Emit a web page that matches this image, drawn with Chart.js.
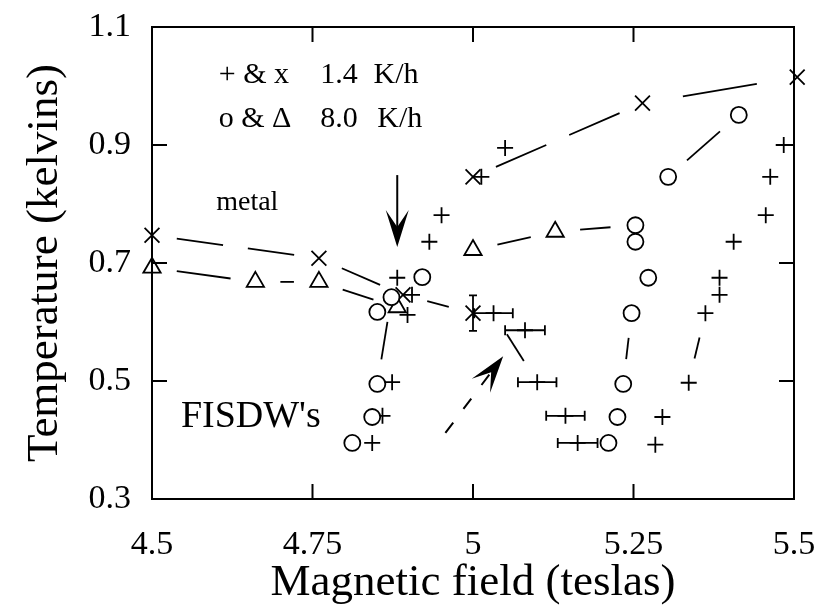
<!DOCTYPE html>
<html><head><meta charset="utf-8">
<script src="https://cdn.jsdelivr.net/npm/chart.js@4/dist/chart.umd.min.js"></script>
<style>html,body{margin:0;padding:0;background:#fff;}canvas{display:block;}</style>
</head><body>
<canvas id="c" width="826" height="614"></canvas>
<script>
// ---- axis ticks ----
const xTickValues = [4.5, 4.75, 5, 5.25, 5.5];
const xTickLabels = ['4.5', '4.75', '5', '5.25', '5.5'];
const yTickValues = [0.3, 0.5, 0.7, 0.9, 1.1];
const yTickLabels = ['0.3', '0.5', '0.7', '0.9', '1.1'];

// ---- "+" markers, 1.4 K/h ----
const plusX = [5.013, 4.951, 4.932, 4.882, 4.905, 4.898, 5.032, 5.081, 5.100, 5.144, 5.163, 4.874, 4.859, 4.843, 5.050, 5.456, 5.406, 5.384, 5.384, 5.362, 5.336, 5.295, 5.284, 5.484, 5.463];
const plusY = [0.846, 0.781, 0.736, 0.675, 0.646, 0.612, 0.615, 0.586, 0.498, 0.441, 0.395, 0.498, 0.441, 0.395, 0.895, 0.781, 0.736, 0.675, 0.646, 0.615, 0.497, 0.439, 0.392, 0.900, 0.846];
const plusXErr = [0, 0, 0, 0, 0, 0, 0.030, 0.031, 0.030, 0.030, 0.031, 0, 0, 0, 0, 0, 0, 0, 0, 0, 0, 0, 0, 0, 0];

// ---- "x" markers, 1.4 K/h ----
const crossX = [4.5, 4.76, 4.891, 5.0, 5.0, 5.264, 5.505];
const crossY = [0.747, 0.708, 0.646, 0.615, 0.846, 0.971, 1.015];
const crossYErr = [0, 0, 0, 0.030, 0, 0, 0];

// ---- "o" markers, 8.0 K/h ----
const circleX = [4.921, 4.873, 4.851, 4.851, 4.843, 4.812, 5.253, 5.253, 5.273, 5.247, 5.234, 5.225, 5.211, 5.304, 5.414];
const circleY = [0.676, 0.642, 0.617, 0.495, 0.439, 0.395, 0.764, 0.736, 0.675, 0.615, 0.495, 0.439, 0.395, 0.846, 0.951];

// ---- triangle markers, 8.0 K/h ----
const triX = [4.5, 4.661, 4.76, 4.882, 5.0, 5.128];
const triY = [0.692, 0.668, 0.668, 0.625, 0.722, 0.753];

// ---- dashed connecting lines ----
const slowLowX = [4.5, 4.76, 4.891, 5.0];
const slowLowY = [0.747, 0.708, 0.646, 0.615];
const slowHighX = [5.0, 5.264, 5.505];
const slowHighY = [0.846, 0.971, 1.015];
const slowMidX = [5.032, 5.100];
const slowMidY = [0.615, 0.498];
const slowRightX = [5.336, 5.362];
const slowRightY = [0.497, 0.615];
const fastMainX = [4.5, 4.661, 4.76, 4.882, 4.921, 5.0, 5.128, 5.253];
const fastMainY = [0.692, 0.668, 0.668, 0.625, 0.676, 0.722, 0.753, 0.764];
const fastLeftX = [4.873, 4.851];
const fastLeftY = [0.642, 0.495];
const fastRightX = [5.234, 5.247];
const fastRightY = [0.495, 0.615];
const fastTopX = [5.304, 5.414];
const fastTopY = [0.846, 0.951];

// ---- annotations (data coordinates) ----
const notes = [
  {text: '+ & x', x: 4.604, y: 1.005, size: 30},
  {text: '1.4', x: 4.762, y: 1.005, size: 30},
  {text: 'K/h', x: 4.845, y: 1.005, size: 30},
  {text: 'o & \u0394', x: 4.604, y: 0.931, size: 30},
  {text: '8.0', x: 4.762, y: 0.931, size: 30},
  {text: 'K/h', x: 4.851, y: 0.931, size: 30},
  {text: 'metal', x: 4.600, y: 0.790, size: 28},
  {text: "FISDW's", x: 4.545, y: 0.422, size: 38}
];
const arrows = [
  {x0: 4.882, y0: 0.849, x1: 4.882, y1: 0.727, dashed: false},
  {x0: 4.957, y0: 0.412, x1: 5.047, y1: 0.542, dashed: true}
];

const FONT = "'Liberation Serif', 'Times New Roman', serif";
const pts = (xs, ys) => xs.map((v, i) => ({x: v, y: ys[i]}));

function gapDash(ctx) {
  const a = ctx.p0, b = ctx.p1;
  const L = Math.hypot(b.x - a.x, b.y - a.y);
  const g = 25;
  const M = L - 2 * g;
  if (M < 10) return [0, L + 50];
  if (M <= 80) return [0, g, M, L];
  if (M <= 115) { const s = (L - 75) / 2; return [0, s, 75, L]; }
  const d = (M - 25) / 2;
  return [0, g, d, 25, d, L];
}

function lineDs(xs, ys) {
  return {
    type: 'line', data: pts(xs, ys), showLine: true, borderColor: '#000', borderWidth: 1.8,
    pointRadius: 0, tension: 0, fill: false, clip: false, order: 10,
    segment: {borderDash: gapDash}
  };
}
function markDs(xs, ys, style, r, order, bg) {
  return {
    type: 'scatter', data: pts(xs, ys), showLine: false, pointStyle: style, pointRadius: r,
    pointBorderWidth: 1.8, borderColor: '#000', pointBorderColor: '#000',
    pointBackgroundColor: bg || 'rgba(0,0,0,0)', clip: false, order: order
  };
}

const decor = {
  id: 'decor',
  afterDatasetsDraw(chart) {
    const {ctx, chartArea: a, scales: {x, y}} = chart;
    ctx.save();
    ctx.strokeStyle = '#000'; ctx.fillStyle = '#000';
    ctx.lineWidth = 2;
    ctx.strokeRect(a.left, a.top, a.right - a.left, a.bottom - a.top);
    const T = 15;
    ctx.beginPath();
    xTickValues.forEach(v => { const p = x.getPixelForValue(v);
      ctx.moveTo(p, a.bottom); ctx.lineTo(p, a.bottom - T);
      ctx.moveTo(p, a.top); ctx.lineTo(p, a.top + T); });
    yTickValues.forEach(v => { const p = y.getPixelForValue(v);
      ctx.moveTo(a.left, p); ctx.lineTo(a.left + T, p);
      ctx.moveTo(a.right, p); ctx.lineTo(a.right - T, p); });
    ctx.stroke();
    // error bars
    ctx.lineWidth = 1.8;
    ctx.beginPath();
    plusX.forEach((vx, i) => {
      const e = plusXErr[i]; if (!e) return;
      const py = y.getPixelForValue(plusY[i]);
      const x0 = x.getPixelForValue(vx - e), x1 = x.getPixelForValue(vx + e);
      ctx.moveTo(x0, py); ctx.lineTo(x1, py);
      ctx.moveTo(x0, py - 5); ctx.lineTo(x0, py + 5);
      ctx.moveTo(x1, py - 5); ctx.lineTo(x1, py + 5);
    });
    crossX.forEach((vx, i) => {
      const e = crossYErr[i]; if (!e) return;
      const px = x.getPixelForValue(vx);
      const y0 = y.getPixelForValue(crossY[i] - e), y1 = y.getPixelForValue(crossY[i] + e);
      ctx.moveTo(px, y0); ctx.lineTo(px, y1);
      ctx.moveTo(px - 4, y0); ctx.lineTo(px + 4, y0);
      ctx.moveTo(px - 4, y1); ctx.lineTo(px + 4, y1);
    });
    ctx.stroke();
    // arrows
    arrows.forEach(ar => {
      const X0 = x.getPixelForValue(ar.x0), Y0 = y.getPixelForValue(ar.y0);
      const X1 = x.getPixelForValue(ar.x1), Y1 = y.getPixelForValue(ar.y1);
      const dx = X1 - X0, dy = Y1 - Y0, L = Math.hypot(dx, dy);
      const ux = dx / L, uy = dy / L, nx = -uy, ny = ux;
      const H = 37, W = 11.5, N = 20;
      ctx.lineWidth = 2;
      ctx.setLineDash(ar.dashed ? [13, 17] : []);
      ctx.beginPath(); ctx.moveTo(X0, Y0); ctx.lineTo(X1 - ux * N, Y1 - uy * N); ctx.stroke();
      ctx.setLineDash([]);
      ctx.beginPath();
      ctx.moveTo(X1, Y1);
      ctx.lineTo(X1 - ux * H + nx * W, Y1 - uy * H + ny * W);
      ctx.lineTo(X1 - ux * N, Y1 - uy * N);
      ctx.lineTo(X1 - ux * H - nx * W, Y1 - uy * H - ny * W);
      ctx.closePath(); ctx.fill();
    });
    // text notes
    ctx.textBaseline = 'alphabetic'; ctx.textAlign = 'left';
    notes.forEach(n => {
      ctx.font = n.size + 'px ' + FONT;
      ctx.fillText(n.text, x.getPixelForValue(n.x), y.getPixelForValue(n.y));
    });
    ctx.restore();
  }
};

function noPad(s) { s.paddingTop = 0; s.paddingBottom = 0; s.paddingLeft = 0; s.paddingRight = 0; }

new Chart(document.getElementById('c'), {
  type: 'scatter',
  data: {
    datasets: [
      markDs(circleX, circleY, 'circle', 8, 0, '#fff'),
      markDs(plusX, plusY, 'cross', 8, 1),
      markDs(crossX, crossY, 'crossRot', 10.5, 2),
      markDs(triX, triY, 'triangle', 10, 3),
      lineDs(slowLowX, slowLowY),
      lineDs(slowHighX, slowHighY),
      lineDs(slowMidX, slowMidY),
      lineDs(slowRightX, slowRightY),
      lineDs(fastMainX, fastMainY),
      lineDs(fastLeftX, fastLeftY),
      lineDs(fastRightX, fastRightY),
      lineDs(fastTopX, fastTopY)
    ]
  },
  options: {
    responsive: false, animation: false, devicePixelRatio: 1, events: [],
    layout: {padding: {top: 27, right: 32, left: 0, bottom: 0}},
    plugins: {legend: {display: false}, tooltip: {enabled: false}},
    scales: {
      x: {
        type: 'linear', position: 'bottom', min: 4.5, max: 5.5,
        afterFit: s => { s.height = 115; noPad(s); },
        afterBuildTicks: s => { s.ticks = xTickValues.map(v => ({value: v})); },
        grid: {display: false}, border: {display: false},
        ticks: {callback: (v, i) => xTickLabels[i], font: {family: FONT, size: 34}, color: '#000',
                padding: 18, maxRotation: 0, minRotation: 0, autoSkip: false},
        title: {display: true, text: 'Magnetic field (teslas)', color: '#000',
                font: {family: FONT, size: 45, lineHeight: 1.2}, padding: {top: 0, bottom: 4}}
      },
      y: {
        type: 'linear', position: 'left', min: 0.3, max: 1.1,
        afterFit: s => { s.width = 152; noPad(s); },
        afterBuildTicks: s => { s.ticks = yTickValues.map(v => ({value: v})); },
        grid: {display: false}, border: {display: false},
        ticks: {callback: (v, i) => yTickLabels[i], font: {family: FONT, size: 34}, color: '#000',
                padding: 13, autoSkip: false},
        title: {display: true, text: 'Temperature (kelvins)', color: '#000',
                font: {family: FONT, size: 45, lineHeight: 1.2}, padding: {top: 18, bottom: 0}}
      }
    }
  },
  plugins: [decor]
});
</script>
</body></html>
